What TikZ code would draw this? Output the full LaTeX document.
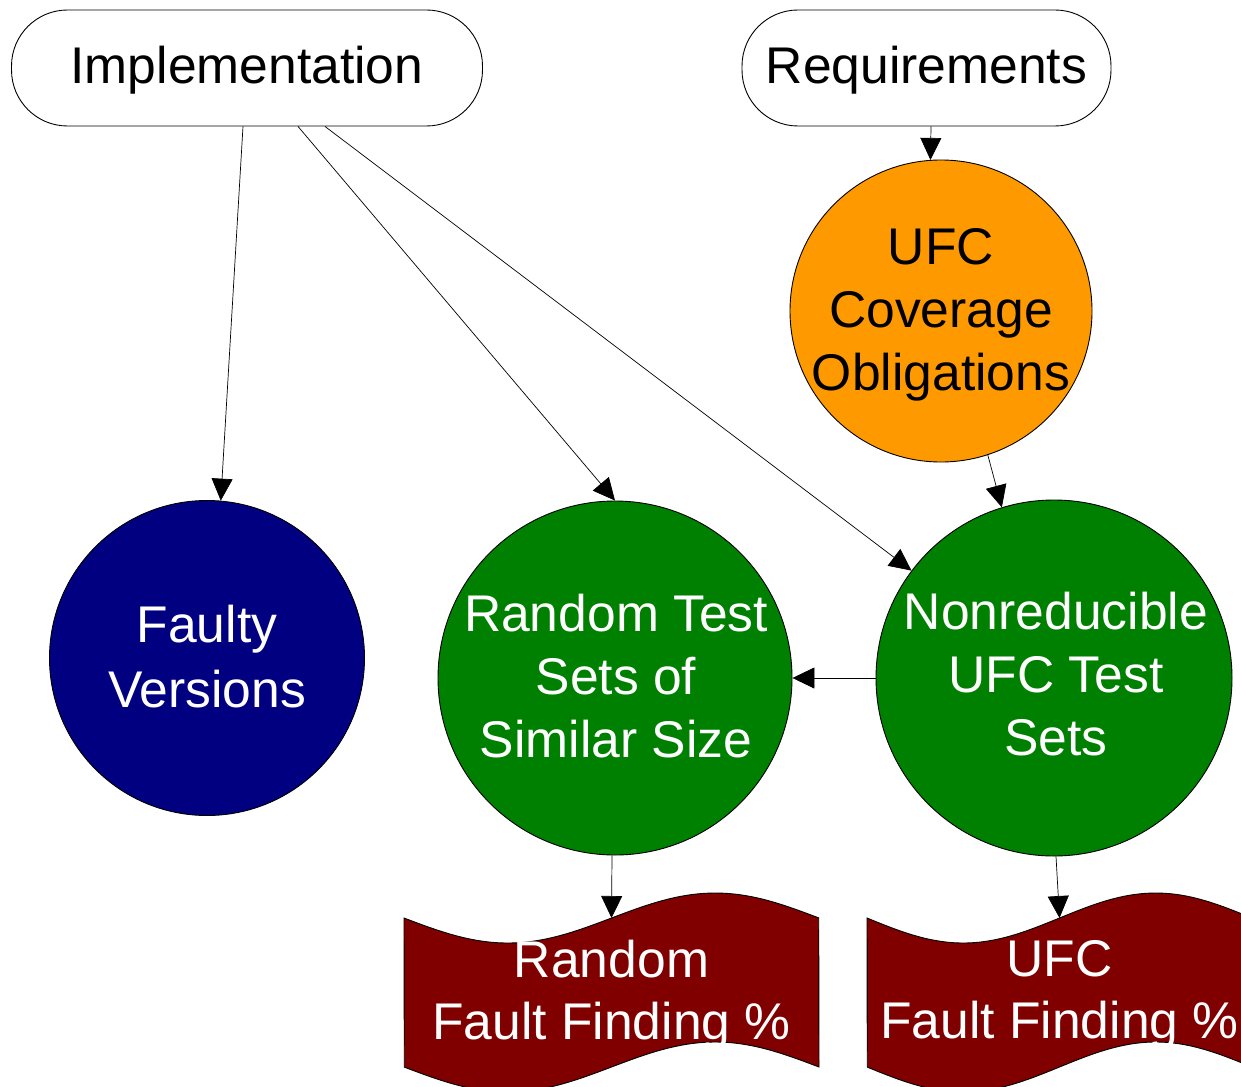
\documentclass[tikz,border=0pt]{standalone}
\usepackage{fontspec}
\setmainfont{Liberation Sans}
\usetikzlibrary{arrows.meta}

\definecolor{navyfill}{RGB}{0,0,128}
\definecolor{greenfill}{RGB}{0,128,0}
\definecolor{orangefill}{RGB}{255,153,0}
\definecolor{maroonfill}{RGB}{128,0,0}

\tikzset{
  txt/.style={font=\fontsize{51.6}{63}\selectfont, align=center, inner sep=0pt},
  terminal/.style={draw=black, line width=0.9pt, fill=white,
    rounded corners=56pt, minimum width=471pt, minimum height=116pt, inner sep=0pt},
  bubble/.style={circle, draw=black, line width=0.9pt, inner sep=0pt},
  tape/.style={draw=black, line width=0.9pt, fill=maroonfill},
  link/.style={line width=0.7pt, -{Triangle[length=22pt,width=21pt]}},
}

\begin{document}
\begin{tikzpicture}[x=1pt,y=-1pt]
\useasboundingbox (0,0) rectangle (1241,1086);

% result documents (punched-tape outlines)
\path[tape] plot[domain=0:1,samples=80,smooth] ({404+415*\x},{918+25*sin(360*\x)})
  -- plot[domain=1:0,samples=80,smooth] ({404+415*\x},{1067+25*sin(360*\x)}) -- cycle;
\path[tape] plot[domain=0:1,samples=80,smooth] ({867+385*\x},{918+25*sin(360*\x)})
  -- plot[domain=1:0,samples=80,smooth] ({867+385*\x},{1067+25*sin(360*\x)}) -- cycle;
\coordinate (randdoctop) at (611.5,918);
\coordinate (ufcdoctop) at (1059.5,918);

% sources
\node[terminal] (impl) at (247,68) {};
\node[txt] (impltext) at (247,70) {Implementation};
\node[terminal, minimum width=369pt] (req) at (926.5,68) {};
\node[txt] (reqtext) at (926.5,70) {Requirements};

% circles (outline first, caption on top, so the text never widens the circle)
\node[bubble, fill=orangefill, minimum size=302pt] (ufc) at (941,311) {};
\node[txt] (ufctext) at (941,315) {UFC\\Coverage\\Obligations};
\node[bubble, fill=navyfill, minimum size=315pt] (faulty) at (207,658) {};
\node[txt, text=white, font=\fontsize{51.6}{65}\selectfont] (faultytext) at (207,657) {Faulty\\Versions};
\node[bubble, fill=greenfill, minimum size=354pt] (rand) at (615,678) {};
\node[txt, text=white] (randtext) at (616,676) {Random Test\\Sets of\\Similar Size};
\node[bubble, fill=greenfill, minimum size=356pt] (nonred) at (1054,678) {};
\node[txt, text=white] (nonredtext) at (1056,674) {Nonreducible\\UFC Test\\Sets};

% document captions
\node[txt, text=white, font=\fontsize{51.6}{62}\selectfont] (randdoc) at (611.5,995) {Random\\Fault Finding \%};
\node[txt, text=white, font=\fontsize{51.6}{62}\selectfont] (ufcdoc) at (1059.5,995) {UFC\\Fault Finding \%};

% connectors
\draw[link] ([xshift=-4pt]impl.south) -- (faulty.85);
\draw[link] ([xshift=51pt]impl.south) -- (rand.north);
\draw[link] ([xshift=78pt]impl.south) -- (nonred.143);
\draw[link] ([xshift=4.5pt]req.south) -- (ufc.94);
\draw[link] (ufc.-72) -- (nonred.107);
\draw[link] (nonred.west) -- (rand.east);
\draw[link] ([xshift=-3pt]rand.south) -- (randdoctop);
\draw[link] ([xshift=2pt]nonred.south) -- (ufcdoctop);
\end{tikzpicture}
\end{document}
